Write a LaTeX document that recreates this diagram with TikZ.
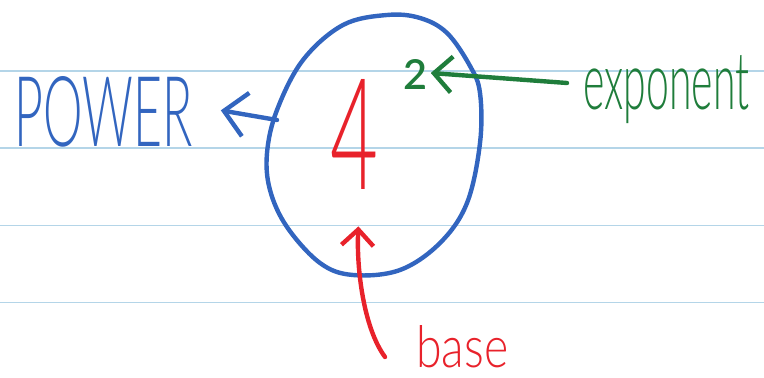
\documentclass[tikz,border=0pt]{standalone}
\usepackage{fontspec}
\setmainfont{Lato}[UprightFont=* Light]
\usepackage{graphicx}
\usetikzlibrary{arrows.meta, calc}
\definecolor{penblue}{HTML}{3265BF}
\definecolor{penred}{HTML}{E8222B}
\definecolor{pengreen}{HTML}{1F7D3B}
\definecolor{ruleblue}{HTML}{B4D5E8}
\newcommand{\squeeze}[3]{\resizebox{#1}{#2}{#3}}

\begin{document}
\begin{tikzpicture}[x=0.5pt, y=-0.5pt,
  ink/.style={line width=2.2pt, line cap=round, line join=round},
  chevron/.style={-{Straight Barb[length=#1, width=2*#1, line width=2.2pt]}},
  chevron/.default=10pt,
  word/.style={inner sep=0pt, anchor=base west}]
  \useasboundingbox (0,0) rectangle (764,378);
  % ruled paper
  \foreach \y in {71,148,225.5,302.7}
    \draw[ruleblue, line width=0.75pt] (0,\y) -- (764,\y);
  % loop round the power
  \draw[penblue, ink] plot[smooth cycle, tension=0.6] coordinates {
    (387,15) (343,25) (303,60) (277,110) (267,153) (270,190) (287,227)
    (320,263) (353,275) (400,270) (440,243) (467,203) (480,143) (480,93)
    (470,66) (447,33) (420,18)};
  \coordinate (loopW) at (277,120);
  % words and numbers
  \node[word, penblue] (power) at (14,147) {\squeeze{89pt}{35pt}{POWER}};
  \node[word, penred] (four) at (330,190) {\squeeze{24pt}{55pt}{4}};
  \node[word, pengreen] (two) at (403,90) {\squeeze{12pt}{15pt}{\bfseries 2}};
  \node[word, pengreen] (expo) at (583,110) {\squeeze{83pt}{27pt}{exponent}};
  \node[word, penred] (base) at (416,368) {\squeeze{46pt}{21pt}{base}};
  % arrows
  \draw[penblue, ink, chevron=11pt] (loopW) -- ([shift={(14pt,1pt)}]power.east);
  \draw[pengreen, ink, chevron=9pt] ([shift={(-8pt,13.5pt)}]expo.base west)
    -- ([shift={(1.5pt,1pt)}]two.east);
  \draw[penred, ink, chevron=8pt] ([shift={(-15.5pt,5.5pt)}]base.base west)
    .. controls +(-22,-30) and +(-2,40) .. ([shift={(2pt,-18pt)}]four.south);
\end{tikzpicture}
\end{document}
